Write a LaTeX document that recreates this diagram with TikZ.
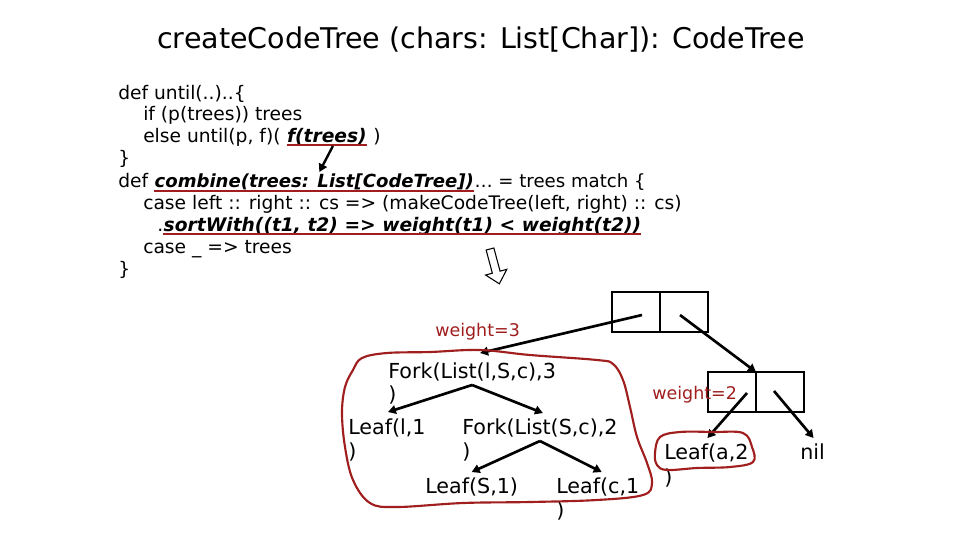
\documentclass[tikz,border=0pt]{standalone}
\usepackage{fontspec}
\setmainfont{DejaVu Sans}
\usetikzlibrary{arrows.meta,calc}
\definecolor{dred}{RGB}{160,30,30}
\newcommand\keepsp{\hbox{\ }}
\begin{document}
\begin{tikzpicture}[x=0.75pt,y=-0.75pt,
  code/.style={anchor=base west,inner sep=0pt,font=\fontsize{14}{16.7}\selectfont},
  codebi/.style={code,font=\fontsize{14}{16.7}\selectfont\bfseries\itshape},
  treetxt/.style={anchor=base west,inner sep=0pt,font=\fontsize{15.5}{17.6}\selectfont},
  wlabel/.style={anchor=base west,inner sep=0pt,text=dred,font=\fontsize{13.1}{15}\selectfont},
  arr/.style={draw=black,line width=2pt,-{Triangle[length=6pt,width=6.5pt]}},
  uline/.style={draw=dred,line width=2pt},
  loop/.style={draw=dred,line width=1.6pt},
  cell/.style={draw=black,line width=1.5pt,minimum width=36pt,minimum height=30pt,inner sep=0pt,outer sep=0pt}]
\fill[white] (0,0) rectangle (960,540);
\useasboundingbox (0,0) rectangle (960,540);

% title
\node[anchor=base,inner sep=0pt,font=\fontsize{21.4}{25}\selectfont] (title) at (481,48) {createCodeTree (chars: List[Char]): CodeTree};

% code
\node[code] (l1) at (118,99) {def until(..)..\{};
\node[code] (l2) at (143,120.5) {if (p(trees)) trees};
\node[code] (l3a) at (143,142) {else until(p, f)(\keepsp};
\node[codebi] (l3b) at (l3a.base east) {f(trees)};
\node[code] (l3c) at (l3b.base east) {\keepsp)};
\node[code] (l4) at (118,164) {\}};
\node[code] (l5a) at (118,187) {def\keepsp};
\node[codebi,font=\fontsize{13.55}{16.7}\selectfont\bfseries\itshape] (l5b) at (l5a.base east) {combine(trees: List[CodeTree])};
\node[code,font=\fontsize{13.6}{16.7}\selectfont] (l5c) at (l5b.base east) {… = trees match \{};
\node[code] (l6) at (143,209) {case left :: right :: cs => (makeCodeTree(left, right) :: cs)};
\node[code] (l7a) at (157,231) {.};
\node[codebi] (l7b) at (l7a.base east) {sortWith((t1, t2) => weight(t1) < weight(t2))};
\node[code] (l8) at (143,253) {case \_ => trees};
\node[code] (l9) at (118,275) {\}};

% red underlines
\draw[uline] ($(l3b.base west)+(0,3)$) -- ($(l3b.base east)+(0,3)$);
\draw[uline] ($(l5b.base west)+(0,4)$) -- ($(l5b.base east)+(0,4)$);
\draw[uline] ($(l7b.base west)+(0,3)$) -- ($(l7b.base east)+(0,3)$);

% arrow f(trees) -> combine
\coordinate (fa) at ($(l3b.base)+(6,4)$);
\coordinate (fb) at ($(l5b.north)+(5,-1)$);
\draw[arr,line width=1.8pt] (fa) -- (fb);

% hollow block arrow
\draw[black,line width=0.8pt,rotate around={15:(490,249)}]
  (486,249) -- (494,249) -- (494,273) -- (501,273) -- (490,285) -- (479,273) -- (486,273) -- cycle;

% cons cells
\node[cell] (c1a) at (636,312) {};
\node[cell] (c1b) at (684,312) {};
\node[cell] (c2a) at (732,392) {};
\node[cell] (c2b) at (780,392) {};

% labels
\node[wlabel] (w3) at (435,336) {weight=3};
\node[wlabel] (w2) at (652,399) {weight=2};

% tree text
\node[treetxt] (fork1) at (388,378) {Fork(List(l,S,c),3};
\node[treetxt] (fork1p) at (388,401) {)};
\node[treetxt] (leafl) at (348,434) {Leaf(l,1};
\node[treetxt] (leaflp) at (348,458) {)};
\node[treetxt] (fork2) at (462,434) {Fork(List(S,c),2};
\node[treetxt] (fork2p) at (462,458) {)};
\node[treetxt] (leafs) at (425,493) {Leaf(S,1)};
\node[treetxt] (leafc) at (556,493) {Leaf(c,1};
\node[treetxt] (leafcp) at (556,517) {)};
\node[treetxt] (leafa) at (664,459) {Leaf(a,2};
\node[treetxt] (leafap) at (664,484) {)};
\node[treetxt] (nil) at (800,459) {nil};

% connectors
\draw[arr] ($(c1a.center)+(6,3)$) -- ($(fork1.north)+(8,-9)$);
\draw[arr] ($(c1b.center)+(-4,3)$) -- (c2a.north east);
\draw[arr] ($(c2a.center)+(15,1)$) -- ($(leafa.north)+(1,-5)$);
\draw[arr] ($(c2b.center)+(-6,-1)$) -- ($(nil.north)+(1,-5)$);
\draw[arr] ($(fork1.south)+(0,4)$) -- ($(leafl.north)+(1,-6)$);
\draw[arr] ($(fork1.south)+(0,4)$) -- ($(fork2.north)+(3,-5)$);
\draw[arr] ($(fork2.south)+(0,4)$) -- ($(leafs.north)+(0,-5)$);
\draw[arr] ($(fork2.south)+(0,4)$) -- ($(leafc.north)+(4,-5)$);

% red hand-drawn loops
\draw[loop] plot[smooth cycle,tension=0.6] coordinates {
  (362,358) (387,353) (430,352) (480,350) (530,355) (597,360) (613,364)
  (623,380) (630,407) (637,437) (647,463) (652,483) (643,495)
  (597,500) (530,502) (463,503) (397,507) (370,503)
  (353,480) (345,447) (342,413) (345,387) (353,370)};
\draw[loop] plot[smooth cycle,tension=0.6] coordinates {
  (655,453) (660,437) (680,432) (713,432) (743,433) (752,447) (753,462)
  (730,467) (697,468) (667,470) (657,465)};
\end{tikzpicture}
\end{document}
